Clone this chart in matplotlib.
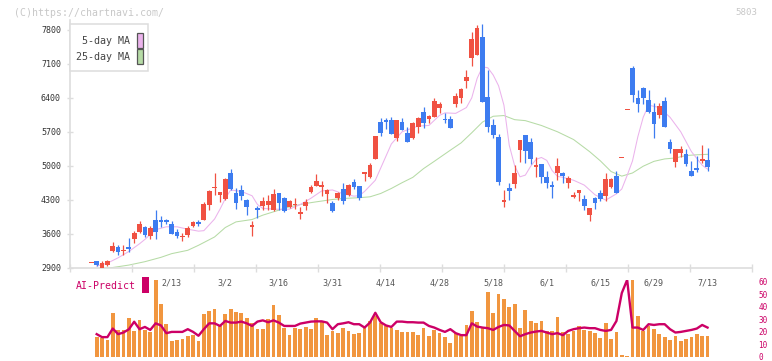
import numpy as np
import matplotlib
matplotlib.use("Agg")
import matplotlib.pyplot as plt
from matplotlib.patches import Rectangle

W, H, DPI = 772, 361, 100
MONO = "DejaVu Sans Mono"

# daily candles, one per trading day (index 0 = first day shown)
OPEN = [3000, 3030, 2895, 2950, 3240, 3313, 3235, 3318, 3480, 3640,
        3740, 3540, 3880, 3875, 3890, 3790, 3636, 3530, 3575, 3760,
        3835, 3880, 4190, 4530, 4395, 4310, 4840, 4440, 4495, 4290,
        3745, 4120, 4166, 4180, 4083, 4434, 4330, 4140, 4195, 3995,
        4166, 4455, 4585, 4565, 4413, 4221, 4324, 4517, 4393, 4655,
        4579, 4830, 4772, 5136, 5907, 5941, 5941, 5576, 5900, 5679,
        5564, 5803, 6100, 5968, 6010, 6190, 5960, 5962, 6272, 6402,
        6753, 7228, 7284, 7662, 6410, 5838, 5597, 4255, 4544, 4620,
        5322, 5632, 5494, 4977, 5033, 4770, 4600, 4840, 4840, 4634,
        4358, 4441, 4310, 3980, 4324, 4441, 4379, 4565, 4792, 5150,
        6140, 7009, 6402, 6609, 6355, 6113, 6045, 6334, 5481, 5081,
        5267, 5240, 4888, 4943, 5094, 5116]
HIGH = [3000, 3030, 3040, 3050, 3420, 3354, 3354, 3505, 3656, 3862,
        3760, 3760, 4089, 3966, 3910, 3850, 3690, 3622, 3760, 3850,
        3870, 4255, 4496, 4840, 4462, 4737, 4937, 4531, 4600, 4320,
        3850, 4166, 4358, 4400, 4520, 4434, 4345, 4290, 4337, 4138,
        4310, 4610, 4826, 4690, 4510, 4275, 4460, 4634, 4620, 4720,
        4579, 4874, 5060, 5620, 5977, 5977, 6000, 5941, 5977, 5790,
        5894, 6010, 6204, 6050, 6390, 6310, 6080, 6030, 6505, 6610,
        6974, 7752, 7900, 7924, 6974, 5962, 5652, 4496, 4648, 5012,
        5528, 5632, 5562, 5183, 5033, 4890, 4690, 5150, 4880, 4790,
        4460, 4496, 4393, 4118, 4358, 4496, 4840, 4740, 4890, 5150,
        6140, 7057, 6561, 6630, 6561, 6286, 6300, 6420, 5550, 5343,
        5410, 5343, 5094, 5198, 5425, 5357]
LOW = [3000, 2925, 2895, 2930, 3225, 3148, 3148, 3230, 3413, 3616,
       3530, 3480, 3495, 3732, 3800, 3595, 3510, 3457, 3530, 3740,
       3760, 3870, 4085, 4393, 4255, 4290, 4496, 4104, 4290, 3980,
       3540, 3912, 4083, 4083, 4069, 4083, 4055, 4120, 4097, 3904,
       4083, 4440, 4578, 4372, 4227, 4040, 4300, 4207, 4372, 4510,
       4300, 4690, 4740, 5136, 5617, 5756, 5652, 5500, 5735, 5487,
       5549, 5667, 5770, 5890, 5997, 6090, 5886, 5782, 6204, 6300,
       6608, 7057, 7284, 6320, 5700, 5564, 4600, 4138, 4290, 4531,
       5074, 5047, 5040, 4770, 4640, 4545, 4325, 4702, 4640, 4530,
       4330, 4280, 4090, 3862, 4110, 4270, 4276, 4530, 4441, 5150,
       6140, 6320, 6113, 6272, 6080, 5576, 5990, 5803, 5260, 4970,
       5190, 5000, 4792, 4874, 5060, 4888]
CLOSE = [3000, 2950, 3000, 3040, 3335, 3222, 3260, 3275, 3615, 3800,
         3575, 3720, 3640, 3830, 3830, 3600, 3555, 3550, 3720, 3830,
         3790, 4200, 4475, 4565, 4460, 4735, 4520, 4230, 4385, 4150,
         3755, 4095, 4269, 4270, 4413, 4234, 4070, 4270, 4205, 4048,
         4248, 4558, 4682, 4600, 4496, 4069, 4441, 4269, 4600, 4565,
         4337, 4874, 5012, 5617, 5680, 5900, 5652, 5941, 5735, 5487,
         5873, 5977, 5873, 6024, 6334, 6272, 5945, 5782, 6438, 6576,
         6830, 7614, 7848, 6320, 5803, 5632, 4655, 4290, 4482, 4854,
         5528, 5308, 5130, 5012, 4758, 4648, 4552, 4998, 4785, 4750,
         4393, 4496, 4172, 4118, 4234, 4310, 4723, 4723, 4441, 5150,
         6140, 6458, 6272, 6402, 6113, 5859, 6238, 5803, 5343, 5343,
         5343, 5033, 4792, 4909, 5136, 4977]

# lower panel (right-hand scale 0-60); day 0 has no value
VOLUME = [np.nan, 15.9, 14.8, 13.3, 34.7, 21.4, 21.2, 30.7, 20.9, 29.1,
          21.4, 19.8, 62.0, 42.4, 26.0, 12.7, 13.3, 14.0, 16.7, 17.2,
          12.4, 33.9, 36.5, 38.6, 24.6, 33.9, 37.9, 35.7, 34.7, 31.3,
          26.7, 22.0, 22.5, 29.9, 41.8, 33.1, 23.3, 17.2, 22.8, 22.0,
          24.1, 22.5, 30.7, 28.6, 17.2, 20.6, 18.8, 22.8, 20.6, 18.0,
          18.8, 22.8, 28.6, 32.5, 26.7, 24.6, 22.8, 21.2, 19.8, 19.8,
          19.8, 17.2, 22.8, 16.7, 21.4, 18.8, 15.9, 10.9, 18.8, 16.7,
          25.2, 36.5, 28.1, 23.3, 51.6, 35.2, 50.3, 46.3, 39.7, 42.4,
          23.3, 37.3, 28.6, 27.0, 28.6, 20.6, 20.6, 32.1, 19.8, 18.0,
          20.6, 24.6, 21.2, 20.6, 18.8, 14.8, 26.7, 14.0, 19.8, 1.6,
          0.8, 61.7, 32.5, 20.6, 24.6, 22.0, 18.0, 15.9, 13.5, 16.7,
          12.7, 14.0, 15.9, 18.0, 16.7, 16.7]
AI_PREDICT = [np.nan, 18.0, 15.6, 15.6, 22.5, 18.0, 19.3, 21.9, 28.0, 22.0,
              23.8, 21.4, 26.7, 25.0, 18.8, 19.8, 19.8, 19.8, 22.0, 19.8,
              16.7, 22.0, 26.7, 26.7, 24.6, 28.6, 27.3, 27.3, 28.1, 26.7,
              24.6, 28.1, 29.1, 27.6, 29.1, 27.3, 24.6, 24.6, 24.6, 26.5,
              27.3, 28.1, 28.3, 28.3, 27.3, 22.0, 26.0, 26.7, 27.6, 26.0,
              26.0, 23.3, 27.3, 35.2, 27.6, 25.0, 23.8, 28.1, 28.1, 27.6,
              27.6, 27.3, 27.3, 24.6, 23.3, 21.4, 19.8, 22.0, 18.8, 17.2,
              17.2, 26.7, 24.1, 23.3, 22.8, 21.4, 23.8, 25.4, 25.0, 20.6,
              16.3, 18.0, 19.3, 20.1, 20.6, 19.3, 18.0, 18.8, 17.2, 20.6,
              22.0, 22.8, 23.3, 22.8, 22.8, 21.4, 20.6, 21.4, 28.6, 51.1,
              61.7, 23.3, 23.3, 21.4, 26.0, 25.4, 26.0, 26.0, 22.0, 19.3,
              19.8, 20.6, 21.4, 22.5, 25.4, 23.3]

# moving averages at these days
MA5_DAY = [1, 3, 5, 7, 9, 10, 12, 14, 16, 18, 20, 21, 23, 24, 25, 26, 28, 30,
           31, 32, 35, 37, 39, 41, 43, 45, 47, 49, 50, 51, 53, 54, 55, 56, 58,
           60, 61, 63, 65, 66, 68, 70, 71, 72, 73, 74, 75, 76, 77, 78, 79, 80,
           81, 82, 83, 84, 85, 86, 87, 88, 90, 92, 94, 96, 98, 99, 100, 101,
           102, 103, 104, 106, 108, 110, 112, 114, 115]
MA5_VAL = [2930, 2990, 3100, 3230, 3390, 3480, 3680, 3740, 3740, 3690, 3650,
           3660, 3900, 4100, 4320, 4500, 4470, 4380, 4200, 4118, 4100, 4104,
           4200, 4330, 4480, 4500, 4420, 4372, 4380, 4470, 4700, 4950, 5200,
           5450, 5700, 5780, 5818, 5830, 6040, 6090, 6080, 6200, 6400, 6800,
           7040, 7020, 6871, 6650, 6250, 5420, 5000, 4771, 4806, 4990, 5130,
           5170, 5110, 4900, 4780, 4760, 4700, 4600, 4400, 4290, 4420, 4520,
           4800, 5100, 5600, 6000, 6250, 6200, 6000, 5700, 5290, 5010, 4930]
MA25_DAY = [1, 4, 7, 10, 13, 15, 18, 20, 23, 25, 27, 30, 32, 35, 37, 40, 42,
            45, 47, 50, 52, 54, 56, 58, 60, 62, 64, 67, 69, 71, 73, 75, 77,
            79, 81, 84, 87, 90, 93, 95, 97, 99, 101, 103, 105, 107, 109, 111,
            113, 115]
MA25_VAL = [2880, 2900, 2950, 3020, 3110, 3186, 3255, 3358, 3530, 3725, 3841,
            3890, 3980, 4083, 4152, 4221, 4255, 4303, 4324, 4340, 4358, 4427,
            4531, 4650, 4760, 4940, 5090, 5320, 5470, 5680, 5900, 6020, 6035,
            5950, 5930, 5830, 5700, 5540, 5290, 5100, 4880, 4785, 4850, 4990,
            5090, 5140, 5160, 5210, 5225, 5235]

DATE_DAY = [15, 25, 35, 45, 55, 65, 75, 85, 95, 105, 115]
DATE_LABEL = ["2/13", "3/2", "3/16", "3/31", "4/14", "4/28",
              "5/18", "6/1", "6/15", "6/29", "7/13"]
PRICE_TICKS = [2900, 3600, 4300, 5000, 5700, 6400, 7100, 7800]
PREDICT_TICKS = [0, 10, 20, 30, 40, 50, 60]

RED, BLUE = "#f05142", "#3d7cf0"
AXIS_GREY = "#dddddd"
MAGENTA = "#cc0066"
PINK, GREEN = "#ebb3ec", "#b6dba6"


def fx(px):
    return px / W


def fy(py):
    return 1 - py / H


def main():
    fig = plt.figure(figsize=(W / DPI, H / DPI), dpi=DPI)
    days = np.arange(len(OPEN))
    x0, x1 = -3.98, 123.3

    # price panel
    ax = fig.add_axes([fx(70), fy(267.5), fx(752) - fx(70), fy(20.3) - fy(267.5)])
    ax.set_xlim(x0, x1)
    ax.set_ylim(2900, 8000)
    o, c = np.array(OPEN, float), np.array(CLOSE, float)
    colors = np.where(c >= o, RED, BLUE)
    body_lo = np.minimum(o, c)
    body_h = np.maximum(np.abs(c - o), 22)
    ax.plot(MA25_DAY, MA25_VAL, color=GREEN, lw=0.75, zorder=1)
    ax.plot(MA5_DAY, MA5_VAL, color=PINK, lw=0.75, zorder=1)
    ax.vlines(days, LOW, HIGH, colors=colors, lw=0.9, zorder=2)
    ax.bar(days, body_h, bottom=body_lo, width=0.88, color=colors, zorder=3)

    for s in ("top", "right"):
        ax.spines[s].set_visible(False)
    for s in ("left", "bottom"):
        ax.spines[s].set_color(AXIS_GREY)
        ax.spines[s].set_linewidth(1.2)
    ax.set_yticks(PRICE_TICKS)
    ax.set_yticklabels([str(v) for v in PRICE_TICKS], family=MONO, fontsize=6)
    ax.tick_params(axis="y", direction="inout", length=5, width=1, color=AXIS_GREY,
                   labelcolor="#333333", pad=4)
    ax.set_xticks(np.linspace(x0, x1, 12))
    ax.set_xticklabels([])
    ax.tick_params(axis="x", which="major", direction="inout", length=6, width=1,
                   color=AXIS_GREY)
    ax.set_xticks(DATE_DAY, DATE_LABEL, minor=True, family=MONO, fontsize=6)
    ax.tick_params(axis="x", which="minor", length=0, pad=8, labelcolor="#555555")

    # legend box
    fig.add_artist(Rectangle((fx(70), fy(71)), fx(78), 47 / H, transform=fig.transFigure,
                             facecolor="white", edgecolor=AXIS_GREY, lw=1.1, zorder=5))
    for ty, label, col in ((40.5, "5-day MA", PINK), (56.5, "25-day MA", GREEN)):
        fig.text(fx(130), fy(ty), label, ha="right", va="center", family=MONO,
                 fontsize=7.2, color="#444444", zorder=6)
        fig.add_artist(Rectangle((fx(136.5), fy(ty + 7.3)), fx(6), 14.6 / H,
                                 transform=fig.transFigure, facecolor=col,
                                 edgecolor="#555555", lw=0.9, zorder=6))

    # AI-Predict panel
    ax2 = fig.add_axes([fx(70), fy(356.5), fx(752) - fx(70), fy(279.5) - fy(356.5)])
    ax2.patch.set_alpha(0)
    ax2.set_xlim(x0, x1)
    ax2.set_ylim(0, 62)
    ax2.bar(days, VOLUME, width=0.7, color="#f1963f", zorder=1)
    ax2.plot(days, AI_PREDICT, color=MAGENTA, lw=1.7, zorder=2)
    for s in ax2.spines.values():
        s.set_visible(False)
    ax2.set_xticks([])
    ax2.yaxis.tick_right()
    ax2.set_yticks(PREDICT_TICKS)
    ax2.set_yticklabels([str(v) for v in PREDICT_TICKS], family=MONO, fontsize=5.5)
    ax2.tick_params(axis="y", length=0, pad=4.5, labelcolor=MAGENTA)

    fig.text(fx(75.5), fy(286), "AI-Predict", ha="left", va="center", family=MONO,
             fontsize=7.1, color=MAGENTA)
    fig.add_artist(Rectangle((fx(142), fy(292.7)), fx(6.5), 15.4 / H,
                             transform=fig.transFigure, facecolor=MAGENTA, lw=0))

    fig.text(fx(14), fy(12.5), "(C)https://chartnavi.com/", ha="left", va="center",
             family=MONO, fontsize=7.1, color="#c8c8c8")
    fig.text(fx(757), fy(12.5), "5803", ha="right", va="center",
             family=MONO, fontsize=6.6, color="#c8c8c8")

    fig.savefig("out.png", dpi=DPI)
    plt.close(fig)


if __name__ == "__main__":
    main()
